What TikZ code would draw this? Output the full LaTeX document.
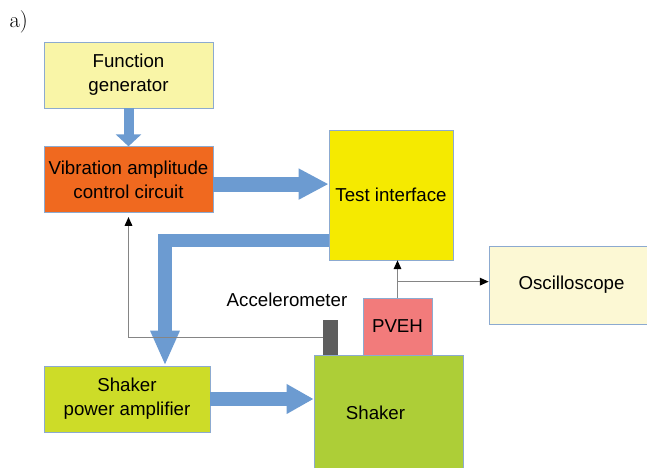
\documentclass[tikz,border=0pt]{standalone}
\usepackage{fontspec}
\setsansfont{Liberation Sans}
\usetikzlibrary{arrows.meta,positioning}

\definecolor{edgeblue}{HTML}{8CAAD0}
\definecolor{pipeblue}{HTML}{6C9BD1}
\definecolor{wiregray}{HTML}{858585}
\definecolor{fgyellow}{HTML}{F9F5A7}
\definecolor{vaccorange}{HTML}{F0691F}
\definecolor{tiyellow}{HTML}{F5EA00}
\definecolor{osccream}{HTML}{FCF8D4}
\definecolor{pvehpink}{HTML}{F27B7B}
\definecolor{shakergreen}{HTML}{ADCE37}
\definecolor{spagreen}{HTML}{CDDC28}
\definecolor{accelgray}{HTML}{5E5E5E}

\begin{document}
\begin{tikzpicture}[>={Triangle[length=0.22cm,width=0.19cm,color=black]},font=\sffamily\fontsize{13.3}{17}\selectfont]
  \tikzstyle{block}=[draw=edgeblue,line width=0.5pt,align=center,inner sep=2pt]
  \tikzstyle{pipe}=[draw=pipeblue,line join=miter]
  \tikzstyle{wire}=[draw=wiregray,line width=0.9pt,->]

  \useasboundingbox (0,0) rectangle (16.175,11.7);

  \node (tag) at (0.47,11.15) {\rmfamily\fontsize{16}{18}\selectfont a)};

  \node[block,fill=fgyellow,minimum width=4.225cm,minimum height=1.65cm] (fg) at (3.2125,9.825) {Function\\generator};
  \node[block,fill=vaccorange,minimum width=4.225cm,minimum height=1.65cm,below=0.95cm of fg] (vacc) {Vibration amplitude\\control circuit};
  \node[block,fill=tiyellow,minimum width=3.1cm,minimum height=3.25cm] (ti) at (9.775,6.825) {Test interface};
  \node[block,fill=osccream,minimum width=4.125cm,minimum height=1.95cm] (osc) at (14.2875,4.575) {Oscilloscope};
  \node[block,fill=shakergreen,minimum width=3.725cm,minimum height=2.875cm] (shaker) at (9.7125,1.3875) {Shaker\hspace*{0.65cm}};
  \node[block,fill=pvehpink,minimum width=1.725cm,minimum height=1.425cm] (pveh) at (9.9375,3.5375) {PVEH};
  \node[fill=accelgray,minimum width=0.375cm,minimum height=0.875cm,inner sep=0pt] (accel) at (8.2625,3.2625) {};
  \node (accellabel) at (7.175,4.2) {Accelerometer};
  \node[block,fill=spagreen,minimum width=4.15cm,minimum height=1.65cm] (spa) at (3.175,1.725) {Shaker\\power amplifier};

  % signal paths
  \draw[pipe,line width=0.25cm,-{Triangle[length=0.3cm,width=0.625cm]}] (fg) -- (vacc);
  \draw[pipe,line width=0.375cm,-{Triangle[length=0.75cm,width=0.725cm]}] ([yshift=-0.11cm]vacc.east) -- ([yshift=-0.11cm]vacc.east -| ti.west);
  \draw[pipe,line width=0.33cm,-{Triangle[length=0.875cm,width=0.675cm]}] ([yshift=0.4875cm]ti.south west) -| ([xshift=0.95cm]spa.north);
  \draw[pipe,line width=0.35cm,-{Triangle[length=0.675cm,width=0.7cm]}] (spa) -- (shaker.west |- spa);

  % measurement lines
  \coordinate (tap) at ([yshift=0.4cm]pveh.north);
  \draw[wire] (accel.west) -| ([yshift=-0.1cm]vacc.south);
  \draw[wire] (pveh.north) -- (pveh.north |- ti.south);
  \draw[wire] (tap) -- (tap -| osc.west);
\end{tikzpicture}
\end{document}
